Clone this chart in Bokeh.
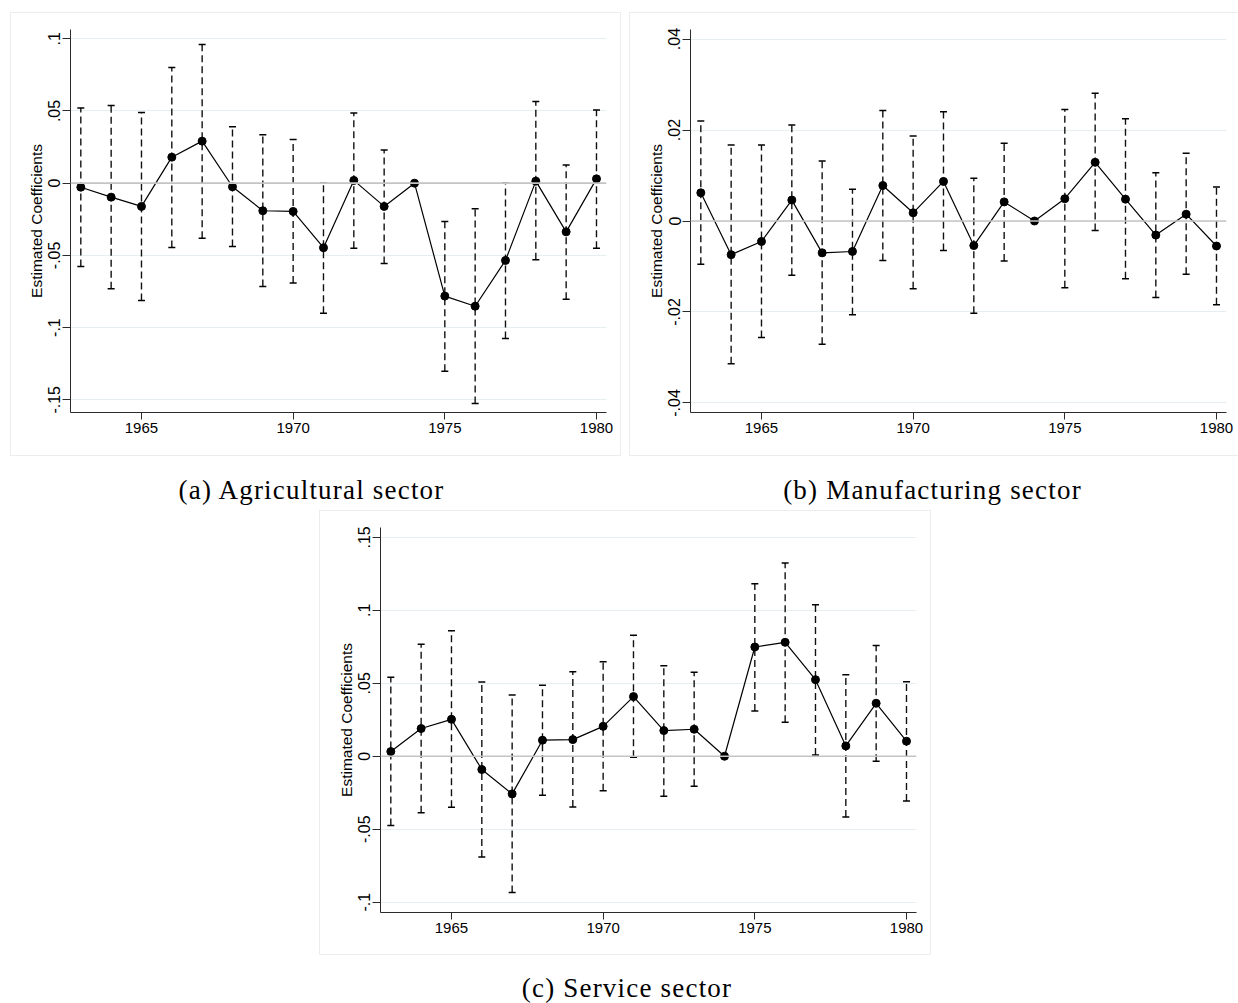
import math
from bokeh.plotting import figure
from bokeh.models import (Whisker, TeeHead, ColumnDataSource, FixedTicker, Span,
                          Range1d, Div, Spacer)
from bokeh.layouts import column, row
from bokeh.embed import file_html
from bokeh.resources import INLINE

NaN = float("nan")

years = list(range(1963, 1981))
x_ticks = [1965, 1970, 1975, 1980]

# (a) Agricultural sector
agr_coef = [-0.0028, -0.0097, -0.0161, 0.0180, 0.0291, -0.0025, -0.0191, -0.0196, -0.0447,
            0.0019, -0.0161, 0.0, -0.0782, -0.0852, -0.0535, 0.0014, -0.0337, 0.0030]
agr_hi = [0.0520, 0.0538, 0.0490, 0.0801, 0.0960, 0.0390, 0.0335, 0.0303, 0.0000,
          0.0485, 0.0229, NaN, -0.0265, -0.0177, 0.0000, 0.0566, 0.0125, 0.0506]
agr_lo = [-0.0577, -0.0731, -0.0812, -0.0445, -0.0381, -0.0438, -0.0715, -0.0692, -0.0900,
          -0.0450, -0.0556, NaN, -0.1302, -0.1526, -0.1075, -0.0530, -0.0803, -0.0450]
agr_ticks = [-0.15, -0.1, -0.05, 0, 0.05, 0.1]
agr_labels = ["-.15", "-.1", "-.05", "0", ".05", ".1"]

# (b) Manufacturing sector
man_coef = [0.0062, -0.0074, -0.0045, 0.0046, -0.0070, -0.0067, 0.0078, 0.0018, 0.0087,
            -0.0054, 0.0042, 0.0, 0.0049, 0.0129, 0.0048, -0.0031, 0.0015, -0.0055]
man_hi = [0.0220, 0.0167, 0.0167, 0.0211, 0.0132, 0.0070, 0.0243, 0.0187, 0.0240,
          0.0094, 0.0171, NaN, 0.0245, 0.0281, 0.0225, 0.0106, 0.0149, 0.0075]
man_lo = [-0.0095, -0.0314, -0.0256, -0.0119, -0.0271, -0.0206, -0.0087, -0.0149, -0.0065,
          -0.0203, -0.0088, NaN, -0.0147, -0.0021, -0.0127, -0.0168, -0.0117, -0.0184]
man_ticks = [-0.04, -0.02, 0, 0.02, 0.04]
man_labels = ["-.04", "-.02", "0", ".02", ".04"]

# (c) Service sector
ser_coef = [0.0032, 0.0190, 0.0253, -0.0091, -0.0258, 0.0110, 0.0114, 0.0205, 0.0409,
            0.0176, 0.0185, 0.0, 0.0749, 0.0781, 0.0525, 0.0071, 0.0363, 0.0103]
ser_hi = [0.0541, 0.0767, 0.0861, 0.0509, 0.0420, 0.0486, 0.0580, 0.0648, 0.0829,
          0.0621, 0.0575, NaN, 0.1183, 0.1324, 0.1039, 0.0559, 0.0760, 0.0511]
ser_lo = [-0.0475, -0.0388, -0.0349, -0.0690, -0.0934, -0.0267, -0.0347, -0.0237, -0.0007,
          -0.0274, -0.0205, NaN, 0.0310, 0.0233, 0.0009, -0.0416, -0.0034, -0.0306]
ser_ticks = [-0.1, -0.05, 0, 0.05, 0.1, 0.15]
ser_labels = ["-.1", "-.05", "0", ".05", ".1", ".15"]

y_title = "Estimated Coefficients"
captions = ["(a) Agricultural sector", "(b) Manufacturing sector", "(c) Service sector"]

SANS = "Liberation Sans"
SERIF = "Liberation Serif"
BORDER = "1px solid #ededed"


def panel(coef, lo, hi, ticks, labels, y0, y1, width, height, bl, br, bt, bb, right_border=True):
    p = figure(width=width, height=height, output_backend="svg", toolbar_location=None,
               x_range=Range1d(1962.66, 1980.33), y_range=Range1d(y0, y1),
               min_border_left=bl, min_border_right=br, min_border_top=bt, min_border_bottom=bb)
    p.outline_line_color = None
    p.background_fill_color = "white"
    p.border_fill_color = "white"
    css = {"border-top": BORDER, "border-left": BORDER, "border-bottom": BORDER,
           "box-sizing": "border-box"}
    if right_border:
        css["border-right"] = BORDER
    p.styles = css

    p.xaxis.ticker = FixedTicker(ticks=x_ticks)
    p.yaxis.ticker = FixedTicker(ticks=ticks)
    p.yaxis.major_label_overrides = {t: l for t, l in zip(ticks, labels)}
    p.yaxis.major_label_orientation = "vertical"
    p.yaxis.axis_label = y_title
    for ax in (p.xaxis[0], p.yaxis[0]):
        ax.axis_line_color = "#2b2b2b"
        ax.axis_line_width = 1
        ax.major_tick_line_color = "#2b2b2b"
        ax.major_tick_in = 0
        ax.minor_tick_line_color = None
        ax.major_label_text_font = SANS
        ax.major_label_text_color = "black"
    p.xaxis.major_label_text_font_size = "15px"
    p.yaxis.major_label_text_font_size = "16px"
    p.xaxis.major_tick_out = 7
    p.xaxis.major_label_standoff = 3
    p.yaxis.major_tick_out = 8
    p.yaxis.major_label_standoff = 2
    p.yaxis.axis_label_text_font = SANS
    p.yaxis.axis_label_text_font_size = "15.5px"
    p.yaxis.axis_label_text_font_style = "normal"
    p.yaxis.axis_label_text_color = "black"
    p.yaxis.axis_label_standoff = 1

    p.xgrid.grid_line_color = None
    p.ygrid.ticker = FixedTicker(ticks=ticks)
    p.ygrid.grid_line_color = "#e5eef0"
    p.ygrid.grid_line_width = 1

    p.add_layout(Span(location=0, dimension="width", line_color="#c4c4c4", line_width=1.6))

    ci = {"x": [], "lo": [], "hi": []}
    for yr, l, h in zip(years, lo, hi):
        if not (math.isnan(l) or math.isnan(h)):
            ci["x"].append(yr)
            ci["lo"].append(l)
            ci["hi"].append(h)
    src_ci = ColumnDataSource(ci)
    w = Whisker(source=src_ci, base="x", lower="lo", upper="hi",
                line_color="#111111", line_width=1.4, line_dash="7 4",
                upper_head=TeeHead(size=7, line_color="black", line_width=1.5),
                lower_head=TeeHead(size=7, line_color="black", line_width=1.5))
    p.add_layout(w)

    src = ColumnDataSource({"x": years, "y": coef})
    p.line("x", "y", source=src, line_color="black", line_width=1.2)
    p.scatter("x", "y", source=src, size=8, fill_color="black", line_color="black")
    return p


def caption(text, width, height, pad):
    html = ('<div style="width:%dpx;text-align:center;font-family:\'%s\';font-size:27px;'
            'letter-spacing:1.2px;line-height:20px;padding-top:%dpx;color:black;'
            'white-space:nowrap;">%s</div>' % (width, SERIF, pad, text))
    return Div(text=html, width=width, height=height, margin=0)


pa = panel(agr_coef, agr_lo, agr_hi, agr_ticks, agr_labels, -0.1588, 0.1064,
           611, 444, 59, 16, 16, 45)
pb = panel(man_coef, man_lo, man_hi, man_ticks, man_labels, -0.0421, 0.0421,
           609, 444, 60, 13, 16, 45, right_border=False)
pc = panel(ser_coef, ser_lo, ser_hi, ser_ticks, ser_labels, -0.1071, 0.1568,
           612, 445, 60, 16, 16, 44)

# caption boxes centred on the panels
cap_a = caption(captions[0], 611, 54, 24)
cap_b = caption(captions[1], 611, 54, 24)
cap_c = caption(captions[2], 612, 46, 23)

layout = column(
    Spacer(width=1, height=12),
    row(Spacer(width=10, height=1), pa, Spacer(width=8, height=1), pb),
    row(Spacer(width=6, height=1), cap_a, Spacer(width=10, height=1), cap_b),
    row(Spacer(width=319, height=1), pc),
    row(Spacer(width=321, height=1), cap_c),
)

open("out.html", "w").write(file_html(layout, INLINE))
